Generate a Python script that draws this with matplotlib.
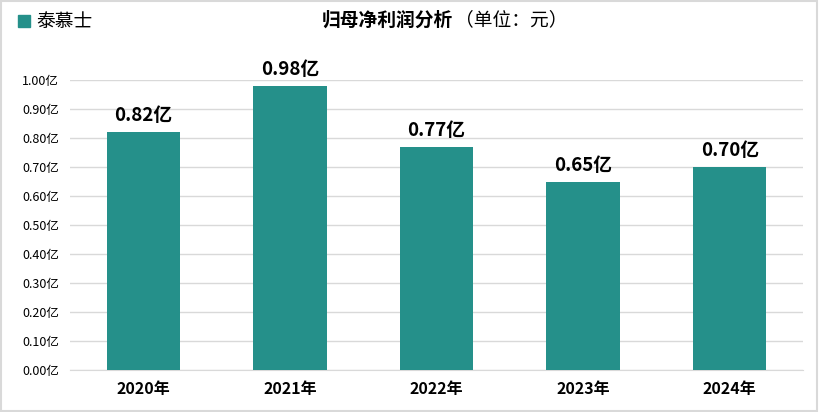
import matplotlib.pyplot as plt
from matplotlib.patches import Rectangle

plt.rcParams['font.family'] = ['Noto Sans CJK SC', 'DejaVu Sans']

years = ['2020年', '2021年', '2022年', '2023年', '2024年']
profit = [0.82, 0.98, 0.77, 0.65, 0.70]
yticks = [0.0, 0.1, 0.2, 0.3, 0.4, 0.5, 0.6, 0.7, 0.8, 0.9, 1.0]
company = '泰慕士'
barColor = '#25908A'

fig = plt.figure(figsize=(8.19, 4.12), dpi=100, facecolor='white')
ax = fig.add_axes([70/819, 1-370/412, (803-70)/819, (370-80)/412])

x = range(len(years))
ax.bar(x, profit, width=0.5, color=barColor, zorder=3)
for i, v in zip(x, profit):
    ax.annotate('%.2f亿' % v, xy=(i, v), xytext=(0, 5), textcoords='offset points',
                ha='center', va='bottom', fontsize=13.5, fontweight='bold')

ax.set_xlim(-0.5, len(years)-0.5)
ax.set_ylim(0, 1.0)
ax.set_yticks(yticks)
ax.set_yticklabels(['%.2f亿' % t for t in yticks], fontsize=9)
ax.set_xticks(list(x))
ax.set_xticklabels(years, fontsize=11.5, fontweight='bold')
ax.tick_params(axis='both', length=0)
ax.tick_params(axis='y', pad=8)
ax.tick_params(axis='x', pad=8)
ax.grid(axis='y', color='#D9D9D9', linewidth=1, zorder=0)
for s in ['top', 'right', 'left']:
    ax.spines[s].set_visible(False)
ax.spines['bottom'].set_color('#D9D9D9')

# legend + title
fig.patches.append(Rectangle((18/819, 1-27/412), 12/819, 12/412, transform=fig.transFigure,
                             color=barColor, figure=fig))
fig.text(36/819, 1-21/412, company, fontsize=13.5, va='center', ha='left')
fig.text(453/819, 1-20/412, '归母净利润分析', fontsize=13.5, fontweight='bold', va='center', ha='right')
fig.text(455/819, 1-20/412, '（单位：元）', fontsize=13.5, va='center', ha='left')

# outer border
fig.patches.append(Rectangle((0.001, 0.002), 0.997, 0.995, transform=fig.transFigure,
                             fill=False, edgecolor='#D9D9D9', linewidth=1.5, figure=fig))

fig.savefig('out.png', dpi=100, facecolor='white')
